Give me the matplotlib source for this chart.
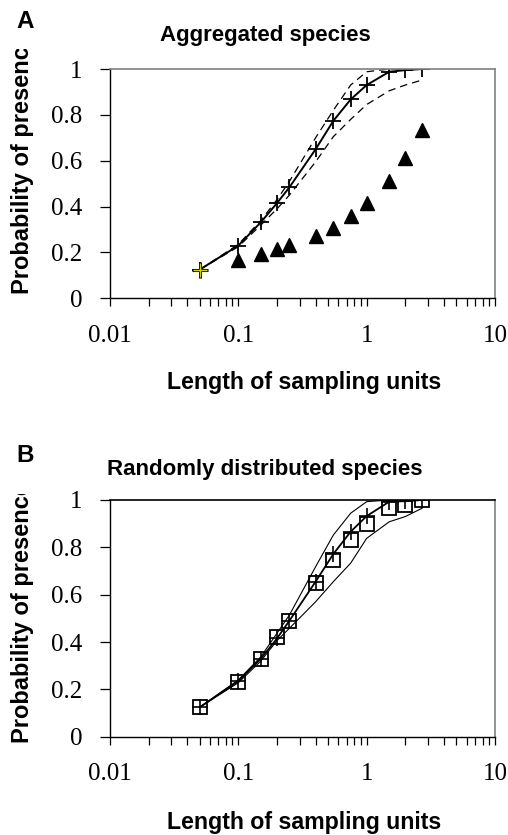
import matplotlib
matplotlib.use("Agg")
import matplotlib.pyplot as plt
from matplotlib.transforms import Bbox, TransformedBbox
from matplotlib.ticker import LogLocator, FixedLocator, NullFormatter

# ---- data ----
x_len = [0.05, 0.1, 0.15, 0.2, 0.25, 0.4, 0.55, 0.75, 1.0, 1.5, 2.0, 2.7]

a_model = [0.125, 0.23, 0.332, 0.415, 0.484, 0.65, 0.774, 0.867, 0.93, 0.988, 0.995, 1.0]
a_upper = [0.125, 0.235, 0.34, 0.43, 0.51, 0.70, 0.82, 0.93, 0.988, 1.0, 1.0, 1.0]
a_lower = [0.125, 0.225, 0.32, 0.39, 0.45, 0.595, 0.705, 0.78, 0.845, 0.905, 0.93, 0.952]
a_obs_x = [0.1, 0.15, 0.2, 0.25, 0.4, 0.55, 0.75, 1.0, 1.5, 2.0, 2.7]
a_obs = [0.168, 0.194, 0.217, 0.232, 0.273, 0.306, 0.357, 0.414, 0.51, 0.611, 0.732]

b_model = [0.124, 0.235, 0.33, 0.415, 0.49, 0.655, 0.772, 0.866, 0.932, 0.993, 0.995, 1.0]
b_upper = [0.125, 0.24, 0.338, 0.437, 0.514, 0.718, 0.852, 0.944, 0.993, 1.0, 1.0, 1.0]
b_lower = [0.125, 0.228, 0.32, 0.406, 0.458, 0.57, 0.655, 0.733, 0.838, 0.908, 0.93, 0.965]
b_obs = [0.124, 0.232, 0.33, 0.42, 0.489, 0.651, 0.746, 0.831, 0.897, 0.968, 0.98, 1.0]

y_ticks = [0, 0.2, 0.4, 0.6, 0.8, 1]
y_ticklabels = ["0", "0.2", "0.4", "0.6", "0.8", "1"]
x_ticks = [0.01, 0.1, 1, 10]
x_ticklabels = ["0.01", "0.1", "1", "10"]

titles = ["Aggregated species", "Randomly distributed species"]
panel_letters = ["A", "B"]
xlabel = "Length of sampling units"
ylabel = "Probability of presence"

W, H = 508, 835
fig = plt.figure(figsize=(W / 100, H / 100), dpi=100)

SANS = "Liberation Sans"
SERIF = "Liberation Serif"

def fx(px):
    return px / W

def fy(py):
    return 1 - py / H

def setup(ax, top_color):
    ax.set_xscale("log")
    ax.set_xlim(0.01, 10)
    ax.set_ylim(0, 1)
    ax.set_yticks(y_ticks)
    ax.set_yticklabels(y_ticklabels, fontfamily=SERIF, fontsize=18)
    ax.xaxis.set_major_locator(FixedLocator(x_ticks))
    ax.set_xticklabels(x_ticklabels, fontfamily=SERIF, fontsize=18)
    ax.xaxis.set_minor_locator(LogLocator(base=10, subs=range(2, 10)))
    ax.xaxis.set_minor_formatter(NullFormatter())
    ax.tick_params(axis="x", which="both", direction="out", length=6, width=0.9, pad=13, colors="black")
    ax.tick_params(axis="y", which="both", direction="out", length=7, width=0.9, pad=13)
    ax.spines["left"].set_linewidth(1.0)
    ax.spines["bottom"].set_linewidth(1.0)
    ax.spines["right"].set_color("#808080")
    ax.spines["right"].set_linewidth(1.2)
    ax.spines["top"].set_color(top_color)
    ax.spines["top"].set_linewidth(1.2)
    ax.patch.set_alpha(0)

# ---- Panel A ----
axA = fig.add_axes([fx(110), fy(298.3), fx(385), (298.3 - 69) / H])
setup(axA, "#808080")
axA.plot(x_len, a_upper, color="black", lw=0.9, ls=(0, (6, 4)))
axA.plot(x_len, a_lower, color="black", lw=0.9, ls=(0, (6, 4)))
axA.plot(x_len, a_model, color="black", lw=1.4, marker="+", ms=11, mew=1.3)
axA.plot(x_len[:1], a_model[:1], ls="none", marker="+", ms=11, mew=2.2, color="black")
axA.plot(x_len[:1], a_model[:1], ls="none", marker="+", ms=10, mew=1.0, color="#d4d400")
axA.plot(a_obs_x, a_obs, ls="none", marker="^", ms=10, color="black")

# ---- Panel B ----
axB = fig.add_axes([fx(110), fy(736.7), fx(385), (736.7 - 500) / H])
setup(axB, "black")
axB.plot(x_len, b_upper, color="black", lw=0.8)
axB.plot(x_len, b_lower, color="black", lw=0.8)
axB.plot(x_len, b_model, color="black", lw=1.3, marker="+", ms=11, mew=1.2)
axB.plot(x_len, b_obs, ls="none", marker="s", ms=9.5, mfc="none", mec="black", mew=1.3)

# ---- texts ----
for i, (ax, title, letter) in enumerate(zip([axA, axB], titles, panel_letters)):
    ty = [35, 470][i]
    ly = [21, 456][i]
    fig.text(fx(265), fy(ty), title, ha="center", va="center",
             fontfamily=SANS, fontweight="bold", fontsize=16)
    fig.text(fx(25), fy(ly), letter, ha="center", va="center",
             fontfamily=SANS, fontweight="bold", fontsize=17.5)
    xl_y = [383, 822][i]
    fig.text(fx(304), fy(xl_y), xlabel, ha="center", va="center",
             fontfamily=SANS, fontweight="bold", fontsize=16.7)
    bottom = [294, 743][i]
    clip_top = [49, 494][i]
    t = fig.text(fx(23), fy(bottom), ylabel, rotation=90, rotation_mode="anchor",
                 ha="left", va="center", fontfamily=SANS, fontweight="bold", fontsize=17)
    t.set_clip_box(TransformedBbox(Bbox([[0, fy(bottom + 20)], [1, fy(clip_top)]]), fig.transFigure))
    t.set_clip_on(True)

fig.savefig("out.png", dpi=100)
